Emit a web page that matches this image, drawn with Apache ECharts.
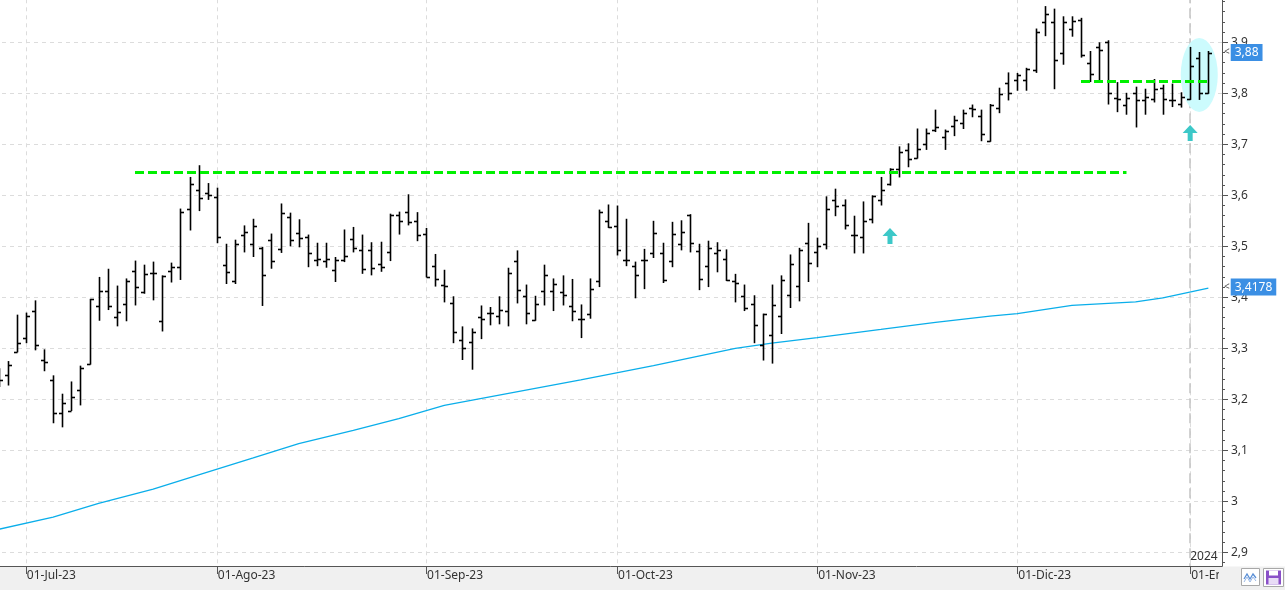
<!DOCTYPE html>
<html><head><meta charset="utf-8">
<script src="https://cdn.jsdelivr.net/npm/echarts@6/dist/echarts.min.js"></script>
<style>html,body{margin:0;padding:0;background:#fff}#chart{width:1285px;height:590px}</style>
</head><body><div id="chart"></div>
<script>
// ---------- DATA ----------
const monthNames = ['Ene','Feb','Mar','Abr','May','Jun','Jul','Ago','Sep','Oct','Nov','Dic'];
const firstDay = '2023-06-28';
const lastDay = '2024-01-04';
const holidays = ['2023-12-25','2023-12-26','2024-01-01'];

const openP = [3.245,3.248,3.293,3.320,3.373,3.277,3.237,3.173,3.178,3.218,
3.269,3.382,3.412,3.361,3.387,3.451,3.410,3.447,3.353,3.451,
3.459,3.573,3.610,3.604,3.596,3.463,3.431,3.523,3.504,3.497,
3.512,3.494,3.557,3.527,3.518,3.474,3.471,3.453,3.473,3.514,
3.493,3.493,3.465,3.488,3.561,3.567,3.549,3.525,3.461,3.425,
3.388,3.316,3.312,3.361,3.369,3.363,3.373,3.471,3.402,3.355,
3.412,3.412,3.410,3.383,3.357,3.367,3.431,3.549,3.539,3.474,
3.461,3.474,3.487,3.486,3.471,3.504,3.562,3.490,3.461,3.486,
3.476,3.431,3.402,3.386,3.306,3.326,3.363,3.404,3.422,3.506,
3.489,3.504,3.591,3.581,3.522,3.519,3.554,3.591,3.622,3.651,
3.688,3.673,3.700,3.729,3.714,3.735,3.741,3.771,3.755,3.706,
3.771,3.820,3.826,3.826,3.846,3.939,3.940,3.880,3.927,3.944,
3.860,3.890,3.901,3.790,3.777,3.800,3.787,3.788,3.810,3.787,
3.779,3.788,3.869,3.800];
const highP = [3.260,3.274,3.365,3.369,3.393,3.297,3.246,3.210,3.234,3.265,
3.396,3.439,3.455,3.422,3.436,3.471,3.463,3.469,3.442,3.467,
3.573,3.635,3.658,3.623,3.614,3.504,3.512,3.540,3.553,3.498,
3.524,3.583,3.565,3.552,3.522,3.506,3.506,3.478,3.532,3.537,
3.522,3.507,3.508,3.563,3.567,3.601,3.566,3.535,3.484,3.453,
3.401,3.342,3.338,3.383,3.380,3.401,3.457,3.491,3.424,3.402,
3.463,3.436,3.442,3.435,3.385,3.436,3.571,3.581,3.579,3.553,
3.469,3.494,3.549,3.506,3.547,3.550,3.562,3.504,3.510,3.507,
3.493,3.445,3.424,3.403,3.367,3.424,3.442,3.483,3.496,3.545,
3.516,3.597,3.612,3.591,3.559,3.587,3.599,3.635,3.652,3.695,
3.701,3.730,3.730,3.767,3.728,3.755,3.767,3.777,3.767,3.778,
3.810,3.840,3.839,3.849,3.926,3.970,3.965,3.950,3.950,3.947,
3.882,3.899,3.903,3.821,3.800,3.812,3.808,3.827,3.816,3.818,
3.801,3.890,3.880,3.882];
const lowP = [3.225,3.228,3.293,3.311,3.297,3.256,3.154,3.146,3.178,3.189,
3.269,3.355,3.376,3.344,3.354,3.385,3.408,3.395,3.334,3.430,
3.435,3.532,3.570,3.592,3.507,3.427,3.427,3.489,3.480,3.384,
3.457,3.488,3.501,3.499,3.460,3.462,3.459,3.431,3.470,3.489,
3.447,3.444,3.451,3.472,3.524,3.542,3.511,3.440,3.422,3.391,
3.311,3.278,3.259,3.319,3.346,3.348,3.344,3.389,3.348,3.355,
3.385,3.374,3.385,3.354,3.321,3.359,3.421,3.537,3.483,3.462,
3.399,3.417,3.478,3.429,3.460,3.493,3.489,3.415,3.421,3.450,
3.433,3.391,3.374,3.311,3.277,3.271,3.329,3.380,3.393,3.431,
3.460,3.495,3.560,3.534,3.487,3.487,3.546,3.581,3.620,3.636,
3.656,3.673,3.690,3.725,3.690,3.717,3.731,3.754,3.707,3.706,
3.762,3.787,3.806,3.806,3.841,3.913,3.809,3.857,3.912,3.871,
3.823,3.823,3.779,3.764,3.759,3.734,3.759,3.783,3.759,3.774,
3.773,3.788,3.788,3.800];
const closeP = [3.238,3.267,3.310,3.363,3.306,3.273,3.173,3.192,3.204,3.261,
3.396,3.412,3.382,3.371,3.432,3.420,3.445,3.448,3.442,3.459,
3.567,3.623,3.594,3.601,3.518,3.449,3.504,3.528,3.539,3.443,
3.471,3.565,3.512,3.516,3.486,3.476,3.476,3.473,3.481,3.496,
3.455,3.457,3.460,3.561,3.550,3.548,3.522,3.440,3.435,3.423,
3.331,3.300,3.331,3.357,3.369,3.376,3.447,3.414,3.369,3.386,
3.443,3.427,3.404,3.373,3.357,3.416,3.567,3.537,3.493,3.474,
3.443,3.474,3.527,3.434,3.525,3.529,3.506,3.436,3.497,3.492,
3.434,3.429,3.379,3.346,3.367,3.385,3.433,3.465,3.493,3.467,
3.501,3.573,3.579,3.541,3.522,3.550,3.599,3.610,3.651,3.684,
3.671,3.691,3.723,3.733,3.727,3.748,3.761,3.769,3.720,3.778,
3.799,3.801,3.835,3.847,3.920,3.955,3.865,3.940,3.942,3.875,
3.838,3.885,3.800,3.788,3.791,3.787,3.792,3.808,3.788,3.787,
3.793,3.854,3.800,3.880];

// 200-session moving average, read at sampled sessions
const maDates = ['2023-06-28','2023-07-06','2023-07-13','2023-07-21','2023-07-28','2023-08-07',
'2023-08-14','2023-08-22','2023-08-29','2023-09-05','2023-09-26','2023-10-06','2023-10-19',
'2023-10-25','2023-11-01','2023-11-10','2023-11-20','2023-11-28','2023-12-01','2023-12-11',
'2023-12-15','2023-12-20','2023-12-27','2024-01-04'];
const maValues = [2.945,2.969,2.996,3.024,3.052,3.085,3.113,3.139,3.162,3.188,3.238,3.266,3.300,
3.310,3.321,3.337,3.351,3.363,3.368,3.384,3.388,3.391,3.399,3.4178];

// annotation levels
const resistanceLine = {from:'2023-07-19', to:'2023-12-19', value:3.645};
const supportLine = {from:'2023-12-12', to:'2024-01-04', value:3.824};
const arrowMarks = [{date:'2023-11-13', value:3.520},{date:'2024-01-02', value:3.722}];
const ellipseMark = {date:'2024-01-03', value:3.836};
const yearMark = {date:'2024-01-02', label:'2024', value:2.891};

// ---------- BUILD ----------
function fmtDate(d){return d.toISOString().slice(0,10);}
const dates = [];
(function(){
  let d = new Date(firstDay+'T00:00:00Z'); const end = new Date(lastDay+'T00:00:00Z');
  while (d <= end) {
    const wd = d.getUTCDay(); const s = fmtDate(d);
    if (wd !== 0 && wd !== 6 && holidays.indexOf(s) < 0) dates.push(s);
    d = new Date(d.getTime()+86400000);
  }
})();
const categories = dates.concat(['']);
const isMonthStart = categories.map((c,i)=> i>0 && c !== '' && c.slice(0,7) !== categories[i-1].slice(0,7));
const idx = s => dates.indexOf(s);
const ohlc = dates.map((d,i)=>[i, openP[i], highP[i], lowP[i], closeP[i]]);
const maData = maDates.map((d,i)=>[idx(d), maValues[i]]);
const lastClose = closeP[closeP.length-1];
const lastMA = maValues[maValues.length-1];
const comma = v => String(v).replace('.', ',');

const chart = echarts.init(document.getElementById('chart'));
const FONT = 'Noto Sans';
const tagRich = {
  a:{color:'#555', fontSize:10, fontFamily:FONT, padding:[0,1,0,0]},
  b:{color:'#fff', backgroundColor:'#3b8fe4', fontSize:12, fontFamily:FONT, padding:[3,4,2,4]}
};
const ellipsePath = 'path://M0,50A50,50,0,1,1,100,50A50,50,0,1,1,0,50Z';
const arrowPath = 'path://M7.5,0L15,8L10,8L10,16L5,16L5,8L0,8Z';
const hidden = {color:'rgba(0,0,0,0)', width:1};

chart.setOption({
  animation:false,
  backgroundColor:'#ffffff',
  textStyle:{fontFamily:FONT},
  grid:[
    {left:-6, right:63, top:-8.7, bottom:-13.3, containLabel:false, outerBoundsMode:'none'},
    {left:-6, right:63, top:0, bottom:24, containLabel:false, outerBoundsMode:'none'}
  ],
  xAxis:[
    {type:'category', gridIndex:0, data:categories, boundaryGap:true, z:0,
     axisLine:{show:false}, axisTick:{show:false, alignWithLabel:true}, axisLabel:{show:false},
     splitLine:{show:true, alignWithLabel:true, interval:(i)=>isMonthStart[i],
       lineStyle:{color:'#dcdcdc', type:[4,4], width:1}}},
    {type:'category', gridIndex:1, data:categories, boundaryGap:true, z:4, position:'bottom',
     axisLine:{show:true, lineStyle:{color:'#555', width:1}},
     axisTick:{show:true, alignWithLabel:true, length:8, interval:(i)=>isMonthStart[i], lineStyle:{color:'#555'}},
     axisLabel:{show:true, interval:(i)=>isMonthStart[i], align:'left', margin:4, padding:[0,0,0,1],
       color:'#333', fontSize:12, fontFamily:FONT,
       formatter:(v)=> v ? '01-'+monthNames[+v.slice(5,7)-1]+'-'+v.slice(2,4) : ''},
     splitLine:{show:false}}
  ],
  yAxis:[
    {type:'value', gridIndex:0, position:'right', min:2.8, max:4.0, interval:0.1, z:0,
     axisLine:{show:true, lineStyle:{color:'#555', width:1}},
     axisTick:{show:true, length:6, lineStyle:{color:'#555'}},
     minorTick:{show:true, splitNumber:5, length:3, lineStyle:{color:'#555'}},
     axisLabel:{show:true, margin:9, color:'#333', fontSize:12, fontFamily:FONT,
       formatter:(v)=>comma(Math.round(v*10)/10)},
     splitLine:{show:true, lineStyle:{color:'#dcdcdc', type:[4,4], width:1}}},
    {type:'value', gridIndex:1, show:false}
  ],
  series:[
    {type:'line', name:'MA', xAxisIndex:0, yAxisIndex:0, z:1, data:maData, symbol:'none', silent:true,
     lineStyle:{color:'#0aaeea', width:1.3},
     markPoint:{silent:true, z:1, data:[{coord:[idx(ellipseMark.date), ellipseMark.value], symbol:ellipsePath,
        symbolSize:[37,74], itemStyle:{color:'#ccfbfd'}, label:{show:false}}]},
     markLine:{silent:true, z:1, symbol:['none','none'], label:{show:false},
        lineStyle:{color:'#c4c4c4', width:1.5, type:[10,5]},
        data:[{xAxis:idx(yearMark.date)}]}
    },
    {type:'custom', name:'OHLC', xAxisIndex:0, yAxisIndex:0, z:2, data:ohlc, silent:true,
     encode:{x:0, y:[1,2,3,4]},
     renderItem:(params, api)=>{
       const x = api.value(0);
       const o = api.coord([x, api.value(1)]);
       const h = api.coord([x, api.value(2)]);
       const l = api.coord([x, api.value(3)]);
       const c = api.coord([x, api.value(4)]);
       const cx = Math.round(h[0]) + 0.5;
       const st = {stroke:'#000', lineWidth:1.6};
       const oy = Math.round(o[1]) + 0.5, cy = Math.round(c[1]) + 0.5;
       return {type:'group', children:[
         {type:'line', shape:{x1:cx, y1:h[1]-0.5, x2:cx, y2:l[1]+0.5}, style:st},
         {type:'line', shape:{x1:cx-3.5, y1:oy, x2:cx, y2:oy}, style:st},
         {type:'line', shape:{x1:cx, y1:cy, x2:cx+3.5, y2:cy}, style:st}
       ]};
     }
    },
    {type:'line', name:'overlay', xAxisIndex:0, yAxisIndex:0, z:5, data:[], silent:true,
     markLine:{silent:true, z:5, symbol:['none','none'], label:{show:false},
       lineStyle:{color:'#00f000', width:3, type:[9,4]},
       data:[
         [{coord:[idx(resistanceLine.from), resistanceLine.value]},{coord:[idx(resistanceLine.to), resistanceLine.value]}],
         [{coord:[idx(supportLine.from), supportLine.value]},{coord:[idx(supportLine.to), supportLine.value]}],
         {yAxis:lastClose, lineStyle:hidden,
          label:{show:true, position:'end', distance:2, formatter:'{a|<}{b|'+comma(lastClose)+'}', rich:tagRich}},
         {yAxis:lastMA, lineStyle:hidden,
          label:{show:true, position:'end', distance:2, formatter:'{a|<}{b|'+comma(lastMA)+'}', rich:tagRich}}
       ]},
     markPoint:{silent:true, z:5, data:[
       ...arrowMarks.map(a=>({coord:[idx(a.date), a.value], symbol:arrowPath, symbolSize:[15,16],
          itemStyle:{color:'#3cc8c8'}, label:{show:false}})),
       {coord:[idx(yearMark.date), yearMark.value], symbol:'rect', symbolSize:0,
          label:{show:true, position:'right', distance:0, formatter:yearMark.label, color:'#333', fontSize:12, fontFamily:FONT}}
     ]}
    }
  ],
  graphic:[
    {type:'rect', z:3, silent:true, shape:{x:0, y:566.5, width:1285, height:24}, style:{fill:'#f0f0f0'}},
    {type:'rect', z:6, silent:true, shape:{x:1219, y:567, width:66, height:23}, style:{fill:'#f0f0f0'}},
    {type:'rect', z:7, silent:true, shape:{x:1241.5, y:568.5, width:18, height:17}, style:{fill:'#fff', stroke:'#a8a8a8', lineWidth:1}},
    {type:'polyline', z:8, silent:true, shape:{points:[[1244,579],[1247,574],[1250,579],[1253,574],[1256,578]]}, style:{stroke:'#5a8fd6', lineWidth:1.3, fill:null}},
    {type:'polyline', z:8, silent:true, shape:{points:[[1244,582],[1247,577],[1250,582],[1253,577],[1256,581]]}, style:{stroke:'#9ab8e6', lineWidth:1, fill:null}},
    {type:'rect', z:7, silent:true, shape:{x:1263.5, y:568.5, width:20, height:18}, style:{fill:'#fff', stroke:'#a8a8a8', lineWidth:1}},
    {type:'rect', z:8, silent:true, shape:{x:1266, y:570.5, width:15, height:14}, style:{fill:'#8a50c8'}},
    {type:'rect', z:9, silent:true, shape:{x:1269, y:570.5, width:9, height:5}, style:{fill:'#fff'}},
    {type:'rect', z:9, silent:true, shape:{x:1268.5, y:578, width:10, height:6.5}, style:{fill:'#e8dcf6'}}
  ]
});
</script></body></html>
